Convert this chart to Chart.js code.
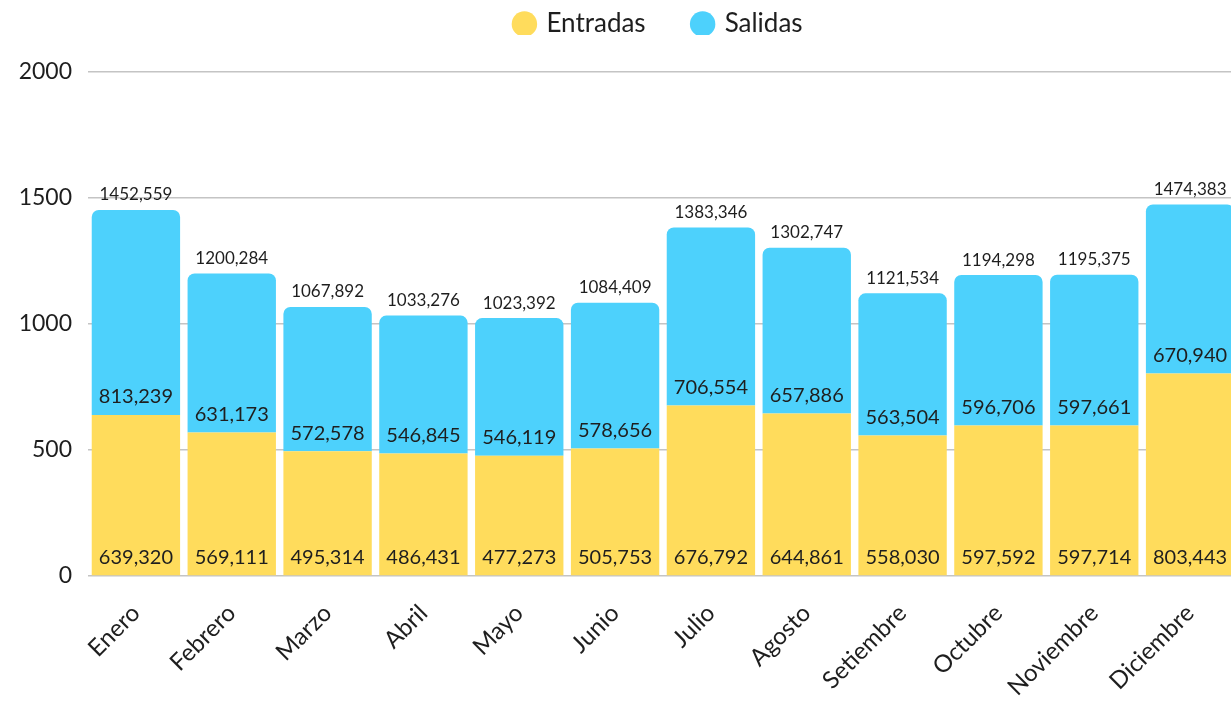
<!DOCTYPE html>
<html>
<head>
<meta charset="utf-8">
<script src="https://cdn.jsdelivr.net/npm/chart.js@4.4.1/dist/chart.umd.min.js"></script>
<style>
  html, body { margin: 0; padding: 0; background: #fff; overflow: hidden; }
  #wrap { width: 1238px; height: 703px; position: relative; }
</style>
</head>
<body>
<div id="wrap"><canvas id="c"></canvas></div>
<script>
const categories = ["Enero", "Febrero", "Marzo", "Abril", "Mayo", "Junio", "Julio", "Agosto", "Setiembre", "Octubre", "Noviembre", "Diciembre"];
const entradas = [639.320, 569.111, 495.314, 486.431, 477.273, 505.753, 676.792, 644.861, 558.030, 597.592, 597.714, 803.443];
const salidas  = [813.239, 631.173, 572.578, 546.845, 546.119, 578.656, 706.554, 657.886, 563.504, 596.706, 597.661, 670.940];
const yTicks = [0, 500, 1000, 1500, 2000];

const FONT = "Lato, 'Open Sans', sans-serif";
const TEXT = "#1e1e1e";
const fmt = v => v.toFixed(3).replace('.', ',');

const labelPlugin = {
  id: 'valueLabels',
  afterLayout(chart) {
    // place the legend row near the top edge, centred like the reference
    const lg = chart.legend;
    lg.top -= 37; lg.bottom -= 37;
    lg.left += 40; lg.right += 40;
  },
  afterDatasetsDraw(chart) {
    const ctx = chart.ctx;
    ctx.save();
    ctx.fillStyle = TEXT;
    ctx.textAlign = 'center';
    ctx.textBaseline = 'middle';
    const m0 = chart.getDatasetMeta(0);
    const m1 = chart.getDatasetMeta(1);
    ctx.font = "20px " + FONT;
    m0.data.forEach((el, i) => {
      ctx.fillText(fmt(entradas[i]), el.x, el.base - 18);
    });
    m1.data.forEach((el, i) => {
      ctx.fillText(fmt(salidas[i]), el.x, el.base - 18);
    });
    ctx.font = "17px " + FONT;
    m1.data.forEach((el, i) => {
      ctx.fillText(fmt(entradas[i] + salidas[i]), el.x, el.y - 15);
    });
    ctx.restore();
  }
};

new Chart(document.getElementById('c'), {
  type: 'bar',
  data: {
    labels: categories,
    datasets: [
      { label: 'Entradas', data: entradas, backgroundColor: '#FFDC5C', borderWidth: 0, borderSkipped: false, borderRadius: 0 },
      { label: 'Salidas', data: salidas, backgroundColor: '#4DD1FC', borderWidth: 0,
        borderRadius: { topLeft: 7, topRight: 7, bottomLeft: 0, bottomRight: 0 }, borderSkipped: false }
    ]
  },
  options: {
    responsive: true,
    maintainAspectRatio: false,
    animation: false,
    datasets: { bar: { categoryPercentage: 0.922, barPercentage: 1 } },
    layout: { padding: { top: 0, left: 0, right: 0, bottom: 0 } },
    plugins: {
      tooltip: { enabled: false },
      legend: {
        position: 'top',
        align: 'center',
        maxHeight: 72,
        labels: {
          usePointStyle: true,
          pointStyle: 'circle',
          boxWidth: 18,
          boxHeight: 18,
          padding: 48,
          color: TEXT,
          font: { family: FONT, size: 26 }
        }
      }
    },
    scales: {
      x: {
        stacked: true,
        grid: { display: false, drawTicks: false },
        border: { display: false },
        afterFit(s) { s.height = 127; },
        ticks: {
          color: TEXT,
          font: { family: FONT, size: 24 },
          maxRotation: 45,
          minRotation: 45,
          padding: 23,
          autoSkip: false
        }
      },
      y: {
        stacked: true,
        min: 0,
        max: 2000,
        afterFit(s) { s.width = 88; },
        afterBuildTicks(s) { s.ticks = yTicks.map(v => ({ value: v })); },
        grid: { color: '#c4c4c4', lineWidth: 1.5, drawTicks: false },
        border: { display: false },
        ticks: {
          color: TEXT,
          font: { family: FONT, size: 23 },
          padding: 16,
          callback: v => String(v)
        }
      }
    }
  },
  plugins: [labelPlugin]
});
</script>
</body>
</html>
